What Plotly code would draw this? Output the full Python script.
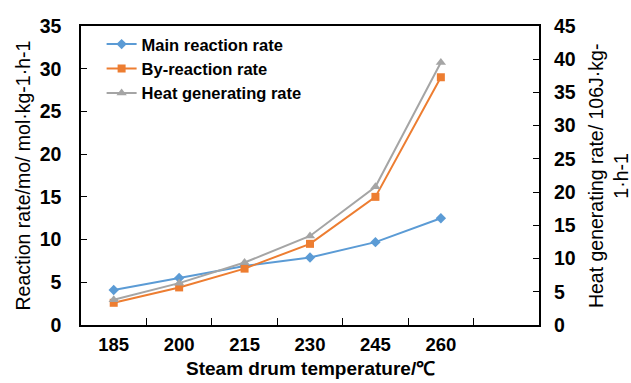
import plotly.graph_objects as go

# Steam drum temperature categories (°C)
temperatures = ["185", "200", "215", "230", "245", "260"]

# Reaction rates (left axis, mol·kg-1·h-1)
main_reaction_rate = [4.1, 5.5, 6.9, 7.9, 9.7, 12.5]
by_reaction_rate = [2.6, 4.4, 6.6, 9.5, 15.0, 29.0]

# Heat generating rate (right axis, 10^6 J·kg-1·h-1)
heat_generating_rate = [3.8, 6.3, 9.4, 13.4, 20.8, 39.5]

FONT = "Liberation Sans, Arial, sans-serif"
BLUE = "#5B9BD5"
ORANGE = "#ED7D31"
GRAY = "#A5A5A5"

xpos = list(range(len(temperatures)))

fig = go.Figure()
fig.add_trace(go.Scatter(
    x=xpos, y=main_reaction_rate, name="Main reaction rate",
    mode="lines+markers", line=dict(color=BLUE, width=2),
    marker=dict(symbol="diamond", size=8, color=BLUE),
))
fig.add_trace(go.Scatter(
    x=xpos, y=by_reaction_rate, name="By-reaction rate",
    mode="lines+markers", line=dict(color=ORANGE, width=2),
    marker=dict(symbol="square", size=8, color=ORANGE),
))
fig.add_trace(go.Scatter(
    x=xpos, y=heat_generating_rate, name="Heat generating rate",
    mode="lines+markers", line=dict(color=GRAY, width=2),
    marker=dict(symbol="triangle-up", size=9, color=GRAY),
    yaxis="y2",
))

tick_font = dict(family=FONT, size=19.5, color="black", weight="bold")
title_font = dict(family=FONT, size=19.5, color="black")

fig.update_layout(
    width=631, height=383,
    margin=dict(l=81, r=92, t=26, b=58),
    paper_bgcolor="white", plot_bgcolor="white",
    showlegend=True,
    legend=dict(
        x=0.045, y=0.997, xanchor="left", yanchor="top",
        bgcolor="rgba(0,0,0,0)",
        font=dict(family=FONT, size=16.5, color="black", weight="bold"),
        itemwidth=30,
    ),
    xaxis=dict(
        range=[-0.5, len(temperatures) + 0.5],
        tickmode="array", tickvals=xpos, ticktext=temperatures,
        ticks="", ticklabelstandoff=2,
        tickfont=dict(family=FONT, size=18.5, color="black", weight="bold"),
        showgrid=False, zeroline=False,
        showline=True, linecolor="black", linewidth=1.5, mirror=True,
        minor=dict(
            tickmode="array",
            tickvals=[i + 0.5 for i in xpos],
            ticks="inside", ticklen=7, tickcolor="black", tickwidth=1,
            showgrid=False,
        ),
    ),
    yaxis=dict(
        range=[0, 35], dtick=5, ticks="inside", ticklen=6,
        tickcolor="black", tickfont=tick_font, ticklabelstandoff=14,
        showgrid=False, zeroline=False,
        showline=True, linecolor="black", linewidth=1.5, mirror=True,
    ),
    yaxis2=dict(
        range=[0, 45], dtick=5, ticks="inside", ticklen=6,
        tickcolor="black", tickfont=tick_font, ticklabelstandoff=14,
        showgrid=False, zeroline=False,
        overlaying="y", side="right", showline=False,
    ),
    annotations=[
        dict(text="Steam drum temperature/℃",
             xref="paper", yref="paper", x=0.5, y=-0.147,
             xanchor="center", yanchor="middle", showarrow=False,
             font=dict(family=FONT, size=19, color="black", weight="bold")),
        dict(text="Reaction rate/mo/ mol·kg-1·h-1",
             xref="paper", yref="paper", x=-0.1288, y=0.5,
             xanchor="center", yanchor="middle", textangle=-90,
             showarrow=False, font=title_font),
        dict(text="Heat generating rate/ 106J·kg-<br>1·h-1",
             xref="paper", yref="paper", x=1.152, y=0.5,
             xanchor="center", yanchor="middle", textangle=-90,
             showarrow=False, font=title_font, align="center"),
    ],
)

fig.write_html("out.html")
